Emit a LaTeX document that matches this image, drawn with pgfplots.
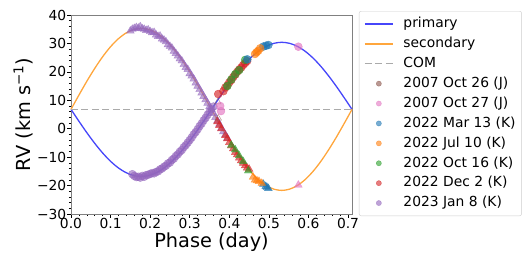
\documentclass[border=0pt]{standalone}
\usepackage{fontspec}
\setmainfont{DejaVu Sans}
\usepackage{pgfplots}
\pgfplotsset{compat=1.18}
\definecolor{cprim}{RGB}{70,70,250}
\definecolor{csec}{RGB}{255,166,60}
\definecolor{ccom}{RGB}{170,170,170}
\definecolor{tbrown}{HTML}{8C564B}
\definecolor{tpink}{HTML}{E377C2}
\definecolor{tblue}{HTML}{1F77B4}
\definecolor{torange}{HTML}{FF7F0E}
\definecolor{tgreen}{HTML}{2CA02C}
\definecolor{tred}{HTML}{D62728}
\definecolor{tpurple}{HTML}{9467BD}
\begin{document}
\begin{tikzpicture}
\useasboundingbox (-71bp,-52bp) rectangle (461bp,214bp);
\begin{axis}[
  at={(0,0)}, anchor=south west,
  scale only axis, width=281bp, height=199bp,
  xmin=0, xmax=0.71, ymin=-30, ymax=40,
  xtick={0,0.1,0.2,0.3,0.4,0.5,0.6,0.7},
  xticklabels={0.0,0.1,0.2,0.3,0.4,0.5,0.6,0.7},
  ytick={-30,-20,-10,0,10,20,30,40},
  yticklabels={−30,−20,−10,0,10,20,30,40},
  minor x tick num=4, minor y tick num=4,
  tick align=outside, major tick length=3.5bp, minor tick length=2bp,
  xtick pos=left, ytick pos=left,
  tick style={black, line width=0.6bp},
  axis line style={gray, line width=0.8bp},
  ticklabel style={font=\fontsize{13.9}{16}\selectfont, inner sep=1bp},
  xlabel={Phase (day)}, ylabel={RV (km s\textsuperscript{−1})},
  label style={font=\fontsize{19.4}{22}\selectfont},
  ylabel style={at={(axis description cs:-0.169,0.5)}, anchor=center},
  xlabel style={at={(axis description cs:0.5,0)}, anchor=center, yshift=-28bp},
  legend cell align=left,
  legend style={at={(1,1)}, anchor=north west, xshift=7bp, yshift=4bp,
    font=\fontsize{13.9}{16}\selectfont, draw=black!20, rounded corners=2bp,
    inner sep=5bp, row sep=4.4bp, column sep=9bp,
    nodes={inner sep=1bp, text height=10.5bp, text depth=3bp}},
  legend image code/.code={\draw[#1] (0bp,0bp) -- (28bp,0bp);},
  clip=false,
]
% ---------- data: 2023 Jan 8 (K) purple ----------
\addplot[forget plot, only marks, mark=*, mark size=4bp, tpurple, opacity=0.6, mark options={draw=none}] coordinates {
(0.155,-16.0)(0.16,-16.6)(0.165,-17.0)(0.17,-16.9)(0.175,-17.2)(0.18,-16.6)(0.185,-16.9)
(0.19,-16.3)(0.195,-16.2)(0.20,-15.9)(0.205,-15.6)(0.21,-15.7)(0.215,-15.2)(0.22,-15.0)
(0.225,-14.3)(0.23,-14.0)(0.235,-13.4)(0.24,-13.0)(0.245,-12.2)(0.25,-11.9)(0.255,-11.0)
(0.26,-10.5)(0.265,-9.6)(0.27,-9.0)(0.275,-8.1)(0.28,-7.5)(0.285,-6.5)(0.29,-5.8)
(0.295,-4.9)(0.30,-4.0)(0.305,-3.1)(0.31,-2.0)(0.315,-1.2)(0.32,-0.2)(0.325,0.9)
(0.33,1.8)(0.335,2.9)(0.34,3.8)(0.345,4.9)(0.35,5.9)(0.355,6.9)(0.36,7.8)
};
\addplot[forget plot, only marks, mark=triangle*, mark size=4.5bp, tpurple, opacity=0.6, mark options={draw=none}] coordinates {
(0.15,34.4)(0.155,35.0)(0.16,35.3)(0.165,35.6)(0.17,35.4)(0.175,35.9)(0.18,35.2)
(0.185,35.0)(0.19,34.6)(0.195,34.8)(0.20,34.2)(0.205,33.8)(0.21,33.9)(0.215,33.0)
(0.22,32.5)(0.225,32.6)(0.23,31.6)(0.235,31.2)(0.24,30.6)(0.245,29.6)(0.25,29.0)
(0.255,28.4)(0.26,27.3)(0.265,26.5)(0.27,25.6)(0.275,24.6)(0.28,23.9)(0.285,22.6)
(0.29,21.6)(0.295,20.9)(0.30,19.4)(0.305,18.6)(0.31,17.5)(0.315,16.1)(0.32,15.0)
(0.325,13.8)(0.33,12.6)(0.335,11.4)(0.34,10.2)(0.345,9.0)(0.35,7.8)(0.355,6.7)
(0.36,5.4)(0.365,4.0)(0.37,2.8)(0.375,1.6)(0.38,0.2)(0.385,-1.0)(0.39,-2.1)(0.395,-3.3)
};
% ---------- 2022 Dec 2 (K) red ----------
\addplot[forget plot, only marks, mark=*, mark size=4bp, tred, opacity=0.65, mark options={draw=none}] coordinates {
(0.372,12.2)(0.385,13.2)(0.39,14.5)(0.395,15.2)(0.40,16.3)(0.405,17.1)(0.41,18.2)
(0.415,19.0)(0.42,20.0)(0.425,20.8)(0.43,21.5)(0.435,22.4)(0.44,23.1)(0.445,23.8)
};
\addplot[forget plot, only marks, mark=triangle*, mark size=4.5bp, tred, opacity=0.65, mark options={draw=none}] coordinates {
(0.37,2.5)(0.375,1.2)(0.38,0.0)(0.39,-2.4)(0.395,-3.5)(0.40,-4.8)(0.405,-6.0)(0.41,-7.0)
(0.415,-8.3)(0.42,-9.1)(0.425,-10.3)(0.43,-11.2)(0.435,-12.1)(0.44,-13.0)(0.445,-13.8)(0.45,-14.2)
};
% ---------- 2022 Oct 16 (K) green ----------
\addplot[forget plot, only marks, mark=*, mark size=4bp, tgreen, opacity=0.65, mark options={draw=none}] coordinates {
(0.395,15.0)(0.405,17.3)(0.415,19.2)(0.425,20.6)(0.44,24.2)
};
\addplot[forget plot, only marks, mark=triangle*, mark size=4.5bp, tgreen, opacity=0.65, mark options={draw=none}] coordinates {
(0.405,-5.8)(0.415,-7.4)(0.425,-9.5)(0.435,-11.5)(0.448,-14.8)
};
% ---------- 2022 Mar 13 (K) blue ----------
\addplot[forget plot, only marks, mark=*, mark size=4bp, tblue, opacity=0.7, mark options={draw=none}] coordinates {
(0.4456,24.4)(0.486,28.9)(0.493,29.2)(0.4987,29.45)
};
\addplot[forget plot, only marks, mark=triangle*, mark size=4.5bp, tblue, opacity=0.7, mark options={draw=none}] coordinates {
(0.486,-19.5)(0.492,-20.3)(0.495,-20.6)(0.4987,-21.0)
};
% ---------- 2022 Jul 10 (K) orange ----------
\addplot[forget plot, only marks, mark=*, mark size=4bp, torange, opacity=0.65, mark options={draw=none}] coordinates {
(0.465,26.3)(0.469,26.9)(0.473,27.4)(0.478,28.3)
};
\addplot[forget plot, only marks, mark=triangle*, mark size=4.5bp, torange, opacity=0.65, mark options={draw=none}] coordinates {
(0.46,-17.0)(0.465,-18.0)(0.47,-18.3)(0.475,-18.5)(0.482,-19.2)
};
% ---------- 2007 Oct 26 (J) brown ----------
\addplot[forget plot, only marks, mark=triangle, mark size=3.8bp, tbrown, opacity=0.7] coordinates {
(0.371,9.4)(0.372,3.7)
};
% ---------- 2007 Oct 27 (J) pink ----------
\addplot[forget plot, only marks, mark=*, mark size=4bp, tpink, opacity=0.65, mark options={draw=none}] coordinates {
(0.377,8.0)(0.379,6.2)(0.5745,28.85)
};
\addplot[forget plot, only marks, mark=triangle*, mark size=4.5bp, tpink, opacity=0.65, mark options={draw=none}] coordinates {
(0.5745,-19.8)
};
% ---------- model curves ----------
\addplot[cprim, line width=1.3bp, smooth] coordinates {
(0.0000,6.80)(0.0197,2.70)(0.0394,-1.27)(0.0592,-5.00)(0.0789,-8.37)(0.0986,-11.28)
(0.1183,-13.64)(0.1381,-15.38)(0.1578,-16.44)(0.1775,-16.80)(0.1972,-16.44)(0.2169,-15.38)
(0.2367,-13.64)(0.2564,-11.28)(0.2761,-8.37)(0.2958,-5.00)(0.3156,-1.27)(0.3353,2.70)
(0.3550,6.80)(0.3747,10.90)(0.3944,14.87)(0.4142,18.60)(0.4339,21.97)(0.4536,24.88)
(0.4733,27.24)(0.4931,28.98)(0.5128,30.04)(0.5325,30.40)(0.5522,30.04)(0.5719,28.98)
(0.5917,27.24)(0.6114,24.88)(0.6311,21.97)(0.6508,18.60)(0.6706,14.87)(0.6903,10.90)(0.7100,6.80)
};
\addlegendentry{primary}
\addplot[csec, line width=1.3bp, smooth] coordinates {
(0.0000,6.80)(0.0197,11.75)(0.0394,16.55)(0.0592,21.05)(0.0789,25.12)(0.0986,28.63)
(0.1183,31.48)(0.1381,33.58)(0.1578,34.87)(0.1775,35.30)(0.1972,34.87)(0.2169,33.58)
(0.2367,31.48)(0.2564,28.63)(0.2761,25.12)(0.2958,21.05)(0.3156,16.55)(0.3353,11.75)
(0.3550,6.80)(0.3747,1.85)(0.3944,-2.95)(0.4142,-7.45)(0.4339,-11.52)(0.4536,-15.03)
(0.4733,-17.88)(0.4931,-19.98)(0.5128,-21.27)(0.5325,-21.70)(0.5522,-21.27)(0.5719,-19.98)
(0.5917,-17.88)(0.6114,-15.03)(0.6311,-11.52)(0.6508,-7.45)(0.6706,-2.95)(0.6903,1.85)(0.7100,6.80)
};
\addlegendentry{secondary}
\addplot[ccom, line width=1.3bp, dash pattern=on 7bp off 3.5bp] coordinates {(0,6.8)(0.71,6.8)};
\addlegendentry{COM}
\addlegendimage{legend image code/.code={\fill[tbrown, opacity=0.6] (14bp,0bp) circle (2.6bp);}}
\addlegendentry{2007 Oct 26 (J)}
\addlegendimage{legend image code/.code={\fill[tpink, opacity=0.6] (14bp,0bp) circle (2.6bp);}}
\addlegendentry{2007 Oct 27 (J)}
\addlegendimage{legend image code/.code={\fill[tblue, opacity=0.6] (14bp,0bp) circle (2.6bp);}}
\addlegendentry{2022 Mar 13 (K)}
\addlegendimage{legend image code/.code={\fill[torange, opacity=0.6] (14bp,0bp) circle (2.6bp);}}
\addlegendentry{2022 Jul 10 (K)}
\addlegendimage{legend image code/.code={\fill[tgreen, opacity=0.6] (14bp,0bp) circle (2.6bp);}}
\addlegendentry{2022 Oct 16 (K)}
\addlegendimage{legend image code/.code={\fill[tred, opacity=0.6] (14bp,0bp) circle (2.6bp);}}
\addlegendentry{2022 Dec 2 (K)}
\addlegendimage{legend image code/.code={\fill[tpurple, opacity=0.6] (14bp,0bp) circle (2.6bp);}}
\addlegendentry{2023 Jan 8 (K)}
\end{axis}
\end{tikzpicture}
\end{document}
